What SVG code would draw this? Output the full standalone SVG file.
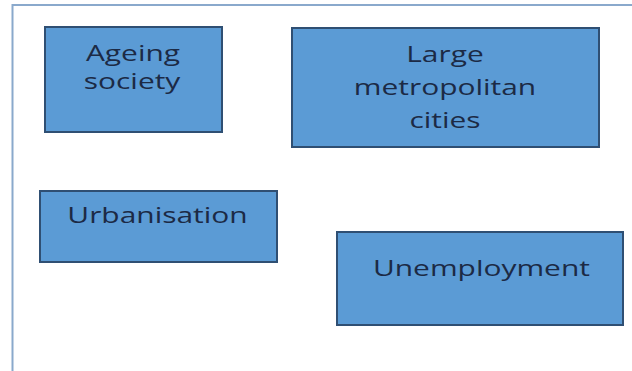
<svg xmlns="http://www.w3.org/2000/svg" width="632" height="371" viewBox="0 0 632 371">
<style>
.box{fill:#5b9bd5;stroke:#2f4f73;stroke-width:2}
.t{font-family:"Open Sans","Noto Sans",sans-serif;font-size:22px;font-weight:500;fill:#1c2a45;text-anchor:middle}
</style>
<rect x="0" y="0" width="632" height="371" fill="#ffffff"/>
<path d="M12.5 371 V5 H632" fill="none" stroke="#8aa9cc" stroke-width="2"/>
<g id="ageing"><rect class="box" x="45" y="27" width="177" height="105"/><g transform="scale(1.36,1)"><text class="t" x="97.8" y="61">Ageing</text><text class="t" x="97.1" y="89">society</text></g></g>
<g id="metro"><rect class="box" x="292" y="28" width="307" height="119"/><g transform="scale(1.36,1)"><text class="t" x="327.2" y="62">Large</text><text class="t" x="327.2" y="95">metropolitan</text><text class="t" x="327.2" y="128">cities</text></g></g>
<g id="urban"><rect class="box" x="40" y="191" width="237" height="71"/><g transform="scale(1.36,1)"><text class="t" x="115.8" y="223">Urbanisation</text></g></g>
<g id="unemp"><rect class="box" x="337" y="232" width="286" height="93"/><g transform="scale(1.36,1)"><text class="t" x="354" y="276">Unemployment</text></g></g>
<g id="connectors"></g>
</svg>
